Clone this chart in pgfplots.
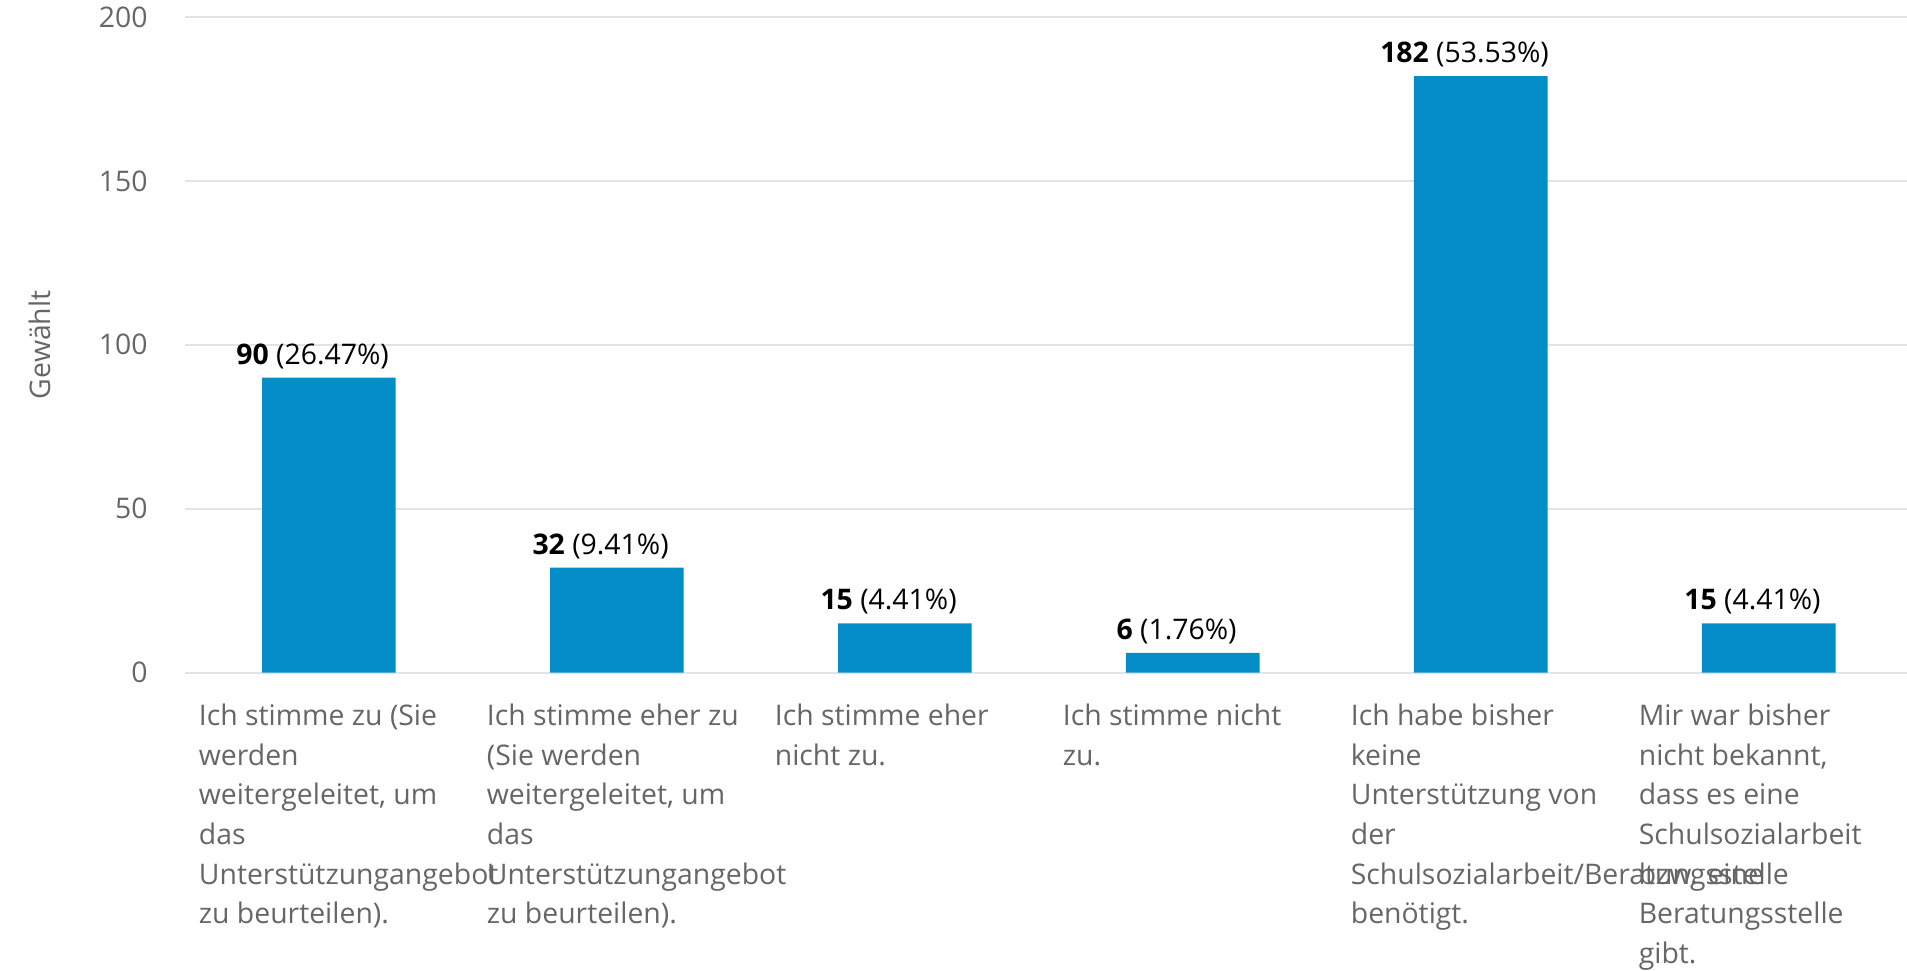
\documentclass[border=0pt]{standalone}
\usepackage{pgfplots}
\pgfplotsset{compat=1.18}
\usepackage{pgfplotstable}
\usepackage{fontspec}
\setmainfont{Open Sans}
\definecolor{barblue}{HTML}{058DC7}
\definecolor{txtgray}{HTML}{666666}
\definecolor{gridgray}{HTML}{E3E3E3}
\pgfplotstableread{
x y pct
0 90 26.47
1 32 9.41
2 15 4.41
3 6 1.76
4 182 53.53
5 15 4.41
}\datatable
\begin{document}
\begin{tikzpicture}
\begin{axis}[
  name=ax,
  scale only axis,
  width=424.8pt, height=161.7pt,
  xmin=-0.5, xmax=5.48, ymin=0, ymax=200,
  axis line style={draw=none},
  tick style={draw=none},
  ymajorgrids, grid style={draw=gridgray, line width=0.5pt},
  ytick={0,50,100,150,200},
  xtick={0,1,2,3,4,5},
  /pgf/number format/assume math mode=true,
  yticklabel style={font=\fontsize{7}{9.8}\selectfont, text=txtgray, anchor=east, inner sep=0pt, xshift=-9pt},
  xticklabel style={font=\fontsize{7}{9.8}\selectfont, text=txtgray, align=left, anchor=north west, inner sep=0pt, xshift=-32.25pt, yshift=-7.5pt},
  xticklabels={
    {Ich stimme zu (Sie\\werden\\weitergeleitet, um\\das\\Unterstützungangebot\\zu beurteilen).},
    {Ich stimme eher zu\\(Sie werden\\weitergeleitet, um\\das\\Unterstützungangebot\\zu beurteilen).},
    {Ich stimme eher\\nicht zu.},
    {Ich stimme nicht\\zu.},
    {Ich habe bisher\\keine\\Unterstützung von\\der\\Schulsozialarbeit/Beratungsstelle\\benötigt.},
    {Mir war bisher\\nicht bekannt,\\dass es eine\\Schulsozialarbeit\\bzw. eine\\Beratungsstelle\\gibt.}
  },
  ylabel={Gewählt},
  ylabel style={font=\fontsize{7}{9.8}\selectfont, text=txtgray, at={(axis description cs:0,0.5)}, anchor=center, yshift=35.7pt},
]
\addplot[ybar, bar width=0.464, fill=barblue, draw=none,
  visualization depends on={\thisrow{pct}\as\pct},
  nodes near coords={\textbf{\pgfmathprintnumber{\pgfplotspointmeta}} (\pgfmathprintnumber[fixed, precision=2, fixed zerofill]{\pct}\%)},
  nodes near coords style={font=\fontsize{7}{9.8}\selectfont, text=black, anchor=south, inner sep=0pt, xshift=-4pt, yshift=2pt}
] table[x=x, y=y] {\datatable};
\end{axis}
\pgfresetboundingbox
\path ([xshift=-45.6pt, yshift=-73.5pt]ax.south west) rectangle ([yshift=4.2pt]ax.north east);
\end{tikzpicture}
\end{document}
